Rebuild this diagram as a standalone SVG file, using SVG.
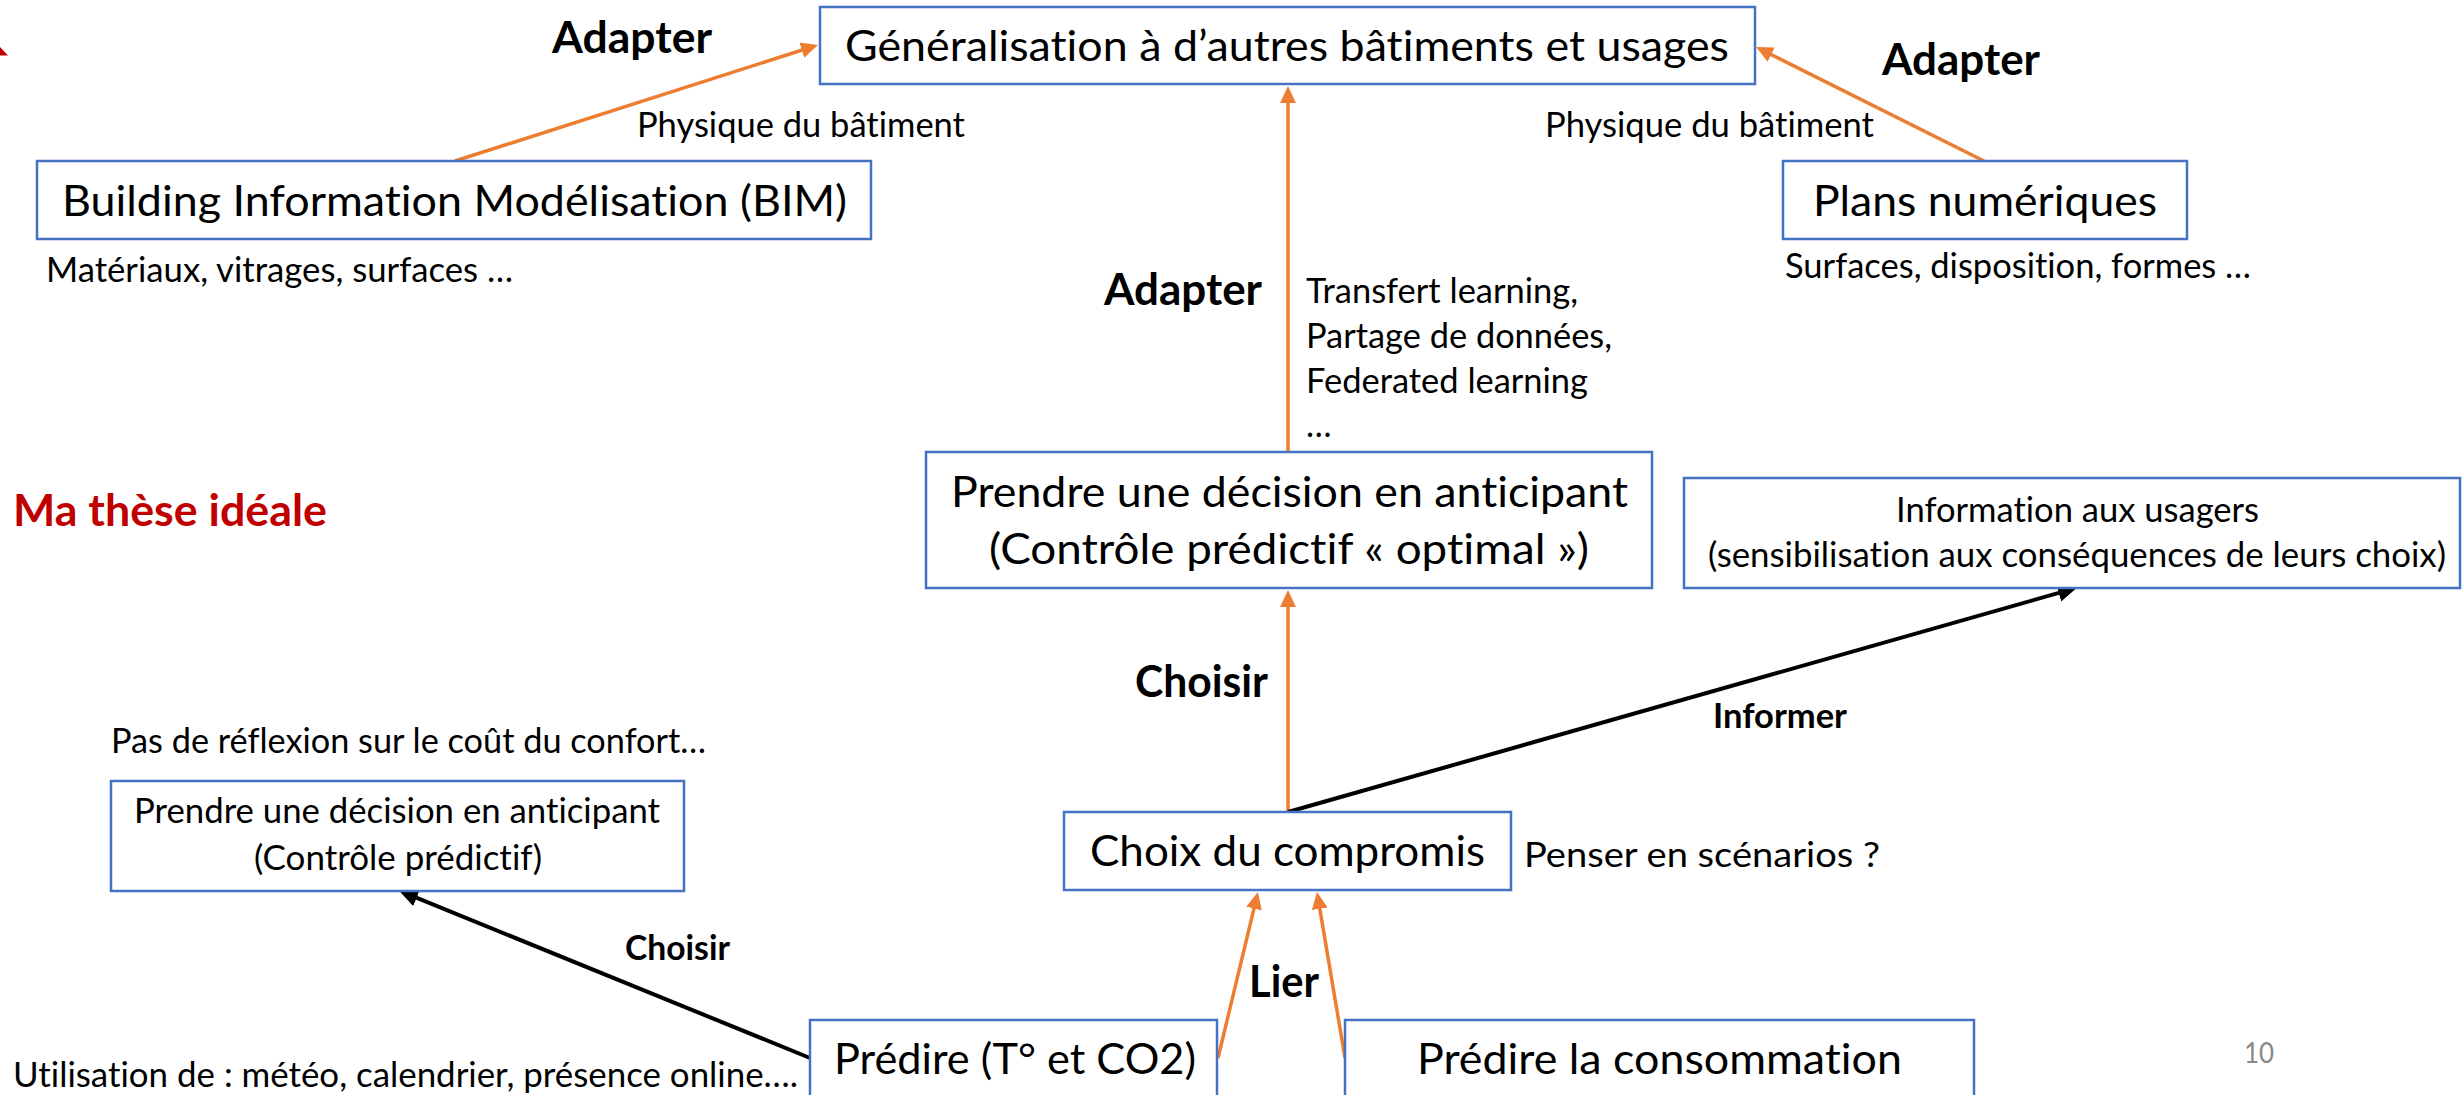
<svg xmlns="http://www.w3.org/2000/svg" width="2463" height="1095" viewBox="0 0 2463 1095">
<defs>
<style>
.box{fill:#fff;stroke:#4472C4;stroke-width:2.5}
text{font-family:Lato,"Liberation Sans",sans-serif;fill:#000;font-variant-ligatures:none;font-feature-settings:"liga" 0,"clig" 0}
.m{font-size:43px}
.s{font-size:34px}
.b{font-weight:bold}
.red{fill:#C00000}
.pg{fill:#898989;font-size:28px}
.oa{stroke:#ED7D31;stroke-width:3.5;fill:none;marker-end:url(#ao)}
.ba{stroke:#000;stroke-width:4;fill:none;marker-end:url(#ab)}
</style>
<marker id="ao" markerUnits="userSpaceOnUse" markerWidth="18" markerHeight="16" refX="12" refY="8" orient="auto">
<path d="M0,0 L17,8 L0,16 z" fill="#ED7D31"/>
</marker>
<marker id="ab" markerUnits="userSpaceOnUse" markerWidth="20" markerHeight="18" refX="13" refY="9" orient="auto">
<path d="M0,0 L19,9 L0,18 z" fill="#000"/>
</marker>
</defs>
<rect width="2463" height="1095" fill="#fff"/>
<polygon points="0,47 8,55.5 0,55.5" fill="#C00000"/>

<g id="connectors">
<line class="oa" x1="455" y1="161" x2="813.2" y2="46.5"/>
<line class="oa" x1="1984" y1="161" x2="1760.5" y2="49.2"/>
<line class="oa" x1="1288" y1="452" x2="1288" y2="91"/>
<line class="oa" x1="1288" y1="812" x2="1288" y2="595"/>
<line class="oa" x1="1218" y1="1058" x2="1256.8" y2="896.9"/>
<line class="oa" x1="1345" y1="1058" x2="1317.8" y2="896.9"/>
<line class="ba" x1="1288" y1="812" x2="2071.2" y2="589.4"/>
<line class="ba" x1="810" y1="1058" x2="404.6" y2="892.9"/>
</g>

<g id="n-generalisation">
<rect class="box" x="820" y="7" width="935" height="77"/>
<text class="m" x="845" y="61" textLength="884" lengthAdjust="spacingAndGlyphs">Généralisation à d’autres bâtiments et usages</text>
</g>
<g id="n-bim">
<rect class="box" x="37" y="161" width="834" height="78"/>
<text class="m" x="62" y="216" textLength="785" lengthAdjust="spacingAndGlyphs">Building Information Modélisation (BIM)</text>
</g>
<g id="n-plans">
<rect class="box" x="1783" y="161" width="404" height="78"/>
<text class="m" x="1813" y="216" textLength="344" lengthAdjust="spacingAndGlyphs">Plans numériques</text>
</g>
<g id="n-optimal">
<rect class="box" x="926" y="452" width="726" height="136"/>
<text class="m" x="951" y="507" textLength="677" lengthAdjust="spacingAndGlyphs">Prendre une décision en anticipant</text>
<text class="m" x="989" y="564" textLength="600" lengthAdjust="spacingAndGlyphs">(Contrôle prédictif « optimal »)</text>
</g>
<g id="n-info">
<rect class="box" x="1684" y="478" width="776" height="110"/>
<text class="s" x="1896" y="522" textLength="363" lengthAdjust="spacingAndGlyphs">Information aux usagers</text>
<text class="s" x="1708" y="567" textLength="738" lengthAdjust="spacingAndGlyphs">(sensibilisation aux conséquences de leurs choix)</text>
</g>
<g id="n-predictif">
<rect class="box" x="111" y="781" width="573" height="110"/>
<text class="s" x="134" y="823" textLength="526" lengthAdjust="spacingAndGlyphs">Prendre une décision en anticipant</text>
<text class="s" x="254" y="870" textLength="288" lengthAdjust="spacingAndGlyphs">(Contrôle prédictif)</text>
</g>
<g id="n-compromis">
<rect class="box" x="1064" y="812" width="447" height="78"/>
<text class="m" x="1090" y="866" textLength="395" lengthAdjust="spacingAndGlyphs">Choix du compromis</text>
</g>
<g id="n-predire-t">
<rect class="box" x="810" y="1020" width="407" height="80"/>
<text class="m" x="834" y="1074" textLength="362" lengthAdjust="spacingAndGlyphs">Prédire (T° et CO2)</text>
</g>
<g id="n-predire-conso">
<rect class="box" x="1345" y="1020" width="629" height="80"/>
<text class="m" x="1417" y="1074" textLength="485" lengthAdjust="spacingAndGlyphs">Prédire la consommation</text>
</g>

<g id="labels">
<text class="m b" x="552" y="53" textLength="160" lengthAdjust="spacingAndGlyphs">Adapter</text>
<text class="m b" x="1882" y="75" textLength="158" lengthAdjust="spacingAndGlyphs">Adapter</text>
<text class="m b" x="1104" y="305" textLength="158" lengthAdjust="spacingAndGlyphs">Adapter</text>
<text class="m b" x="1135" y="697" textLength="133" lengthAdjust="spacingAndGlyphs">Choisir</text>
<text class="m b" x="1249" y="997" textLength="70" lengthAdjust="spacingAndGlyphs">Lier</text>
<text class="s b" x="1713" y="728" textLength="134" lengthAdjust="spacingAndGlyphs">Informer</text>
<text class="s b" x="625" y="960" textLength="105" lengthAdjust="spacingAndGlyphs">Choisir</text>
<text class="m b red" x="13" y="526" textLength="314" lengthAdjust="spacingAndGlyphs">Ma thèse idéale</text>
<text class="s" x="637" y="137" textLength="328" lengthAdjust="spacingAndGlyphs">Physique du bâtiment</text>
<text class="s" x="1545" y="137" textLength="329" lengthAdjust="spacingAndGlyphs">Physique du bâtiment</text>
<text class="s" x="46" y="282" textLength="467" lengthAdjust="spacingAndGlyphs">Matériaux, vitrages, surfaces …</text>
<text class="s" x="1785" y="278" textLength="466" lengthAdjust="spacingAndGlyphs">Surfaces, disposition, formes …</text>
<text class="s" x="1306" y="303" textLength="272" lengthAdjust="spacingAndGlyphs">Transfert learning,</text>
<text class="s" x="1306" y="348" textLength="306" lengthAdjust="spacingAndGlyphs">Partage de données,</text>
<text class="s" x="1306" y="393" textLength="282" lengthAdjust="spacingAndGlyphs">Federated learning</text>
<text class="s" x="1306" y="437">…</text>
<text class="s" x="111" y="753" textLength="595" lengthAdjust="spacingAndGlyphs">Pas de réflexion sur le coût du confort…</text>
<text class="s" x="1524" y="867" textLength="356" lengthAdjust="spacingAndGlyphs">Penser en scénarios ?</text>
<text class="s" x="13" y="1087" textLength="785" lengthAdjust="spacingAndGlyphs">Utilisation de : météo, calendrier, présence online….</text>
<text class="pg" x="2244" y="1063" textLength="30" lengthAdjust="spacingAndGlyphs">10</text>
</g>
</svg>
